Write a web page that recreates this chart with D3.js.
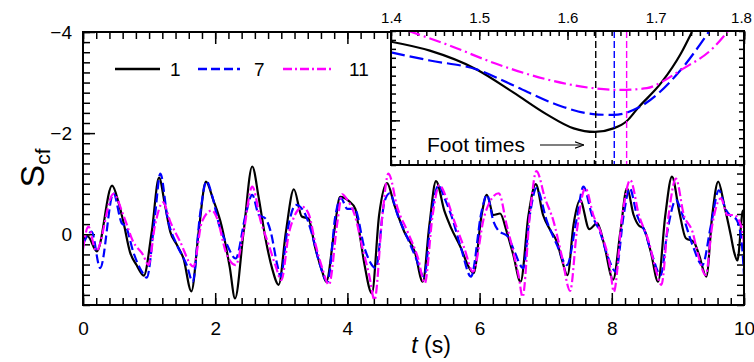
<!DOCTYPE html>
<html>
<head>
<meta charset="utf-8">
<script src="https://cdn.jsdelivr.net/npm/d3@7"></script>
<style>
  body { margin: 0; background: #fff; }
  svg { display: block; font-family: "Liberation Sans", Arial, sans-serif; }
</style>
</head>
<body>
<div id="chart"></div>
<script>
// legend / series
const seriesNames = ["1", "7", "11"];
const seriesColors = ["#000000", "#0000ff", "#ff00ff"];
const xTickLabels = [0, 2, 4, 6, 8, 10];
const yTickLabels = [-4, -2, 0];
const insetTickLabels = [1.4, 1.5, 1.6, 1.7, 1.8];
const footTimes = [1.632, 1.653, 1.667];

// main series [t (s), Scf]
const s1 = [[0,0.10],[0.07,0.04],[0.21,0.34],[0.44,-0.96],[0.535,-0.64],[0.61,-0.25],[0.71,0.35],[0.81,0.61],[0.92,0.82],
  [1.04,-0.05],[1.15,-1.12],[1.24,-0.58],[1.32,-0.05],[1.42,0.21],[1.52,0.48],[1.64,1.13],[1.75,-0.05],[1.86,-1.04],
  [1.97,-0.68],[2.10,-0.15],[2.22,0.65],[2.30,1.27],[2.43,-0.05],[2.56,-1.34],[2.66,-0.71],[2.76,0.08],[2.86,0.67],
  [2.96,1.0],[3.07,-0.05],[3.19,-0.89],[3.31,-0.35],[3.41,-0.31],[3.51,0.25],[3.62,0.74],[3.68,0.94],[3.80,-0.05],
  [3.89,-0.74],[4.02,-0.66],[4.12,-0.5],[4.18,-0.05],[4.26,0.61],[4.37,1.17],[4.48,-0.38],[4.60,-1.01],[4.71,-0.58],
  [4.86,-0.05],[5.02,0.35],[5.14,0.94],[5.24,-0.18],[5.34,-1.05],[5.47,-0.45],[5.57,-0.12],[5.72,0.28],[5.82,0.61],
  [5.91,0.77],[6.03,-0.38],[6.11,-0.78],[6.21,-0.38],[6.31,-0.41],[6.41,-0.05],[6.51,0.41],[6.62,0.94],[6.74,-0.38],
  [6.85,-0.99],[6.96,-0.38],[7.07,-0.08],[7.17,0.15],[7.24,0.48],[7.33,0.81],[7.42,-0.18],[7.52,-0.68],[7.66,-0.1],
  [7.78,-0.22],[7.88,0.18],[8.02,0.9],[8.13,-0.05],[8.23,-0.91],[8.33,-0.38],[8.41,-0.17],[8.48,-0.12],[8.59,0.35],
  [8.70,0.94],[8.81,-0.38],[8.91,-1.14],[9.02,-0.45],[9.12,0.08],[9.24,0.15],[9.32,0.41],[9.43,0.84],[9.52,-0.38],
  [9.61,-1.04],[9.70,-0.58],[9.80,0.02],[9.85,0.35],[9.90,0.52],[9.98,-0.45],[10,-0.48]];

const s7 = [[0,0.2],[0.13,-0.05],[0.26,0.67],[0.46,-0.81],[0.585,-0.22],[0.65,-0.15],[0.76,0.35],[0.89,0.74],[0.965,0.86],
  [1.09,-0.38],[1.17,-1.2],[1.28,-0.31],[1.42,0.21],[1.57,0.61],[1.66,0.94],[1.77,-0.38],[1.87,-1.05],[1.95,-0.78],
  [2.06,-0.18],[2.18,0.21],[2.31,0.48],[2.46,-0.38],[2.56,-0.78],[2.66,-0.38],[2.76,-0.31],[2.84,-0.05],[2.94,0.61],
  [2.99,0.84],[3.09,-0.05],[3.22,-0.58],[3.34,-0.45],[3.47,0.02],[3.57,0.54],[3.70,0.94],[3.82,-0.38],[3.90,-0.72],
  [4.00,-0.5],[4.11,-0.5],[4.26,0.28],[4.43,0.67],[4.56,-0.64],[4.64,-0.81],[4.76,-0.38],[4.91,0.08],[5.04,0.48],
  [5.16,0.84],[5.27,-0.38],[5.38,-0.97],[5.47,-0.71],[5.57,-0.38],[5.72,0.28],[5.87,0.84],[6.03,-0.45],[6.11,-0.78],
  [6.21,-0.25],[6.28,-0.08],[6.43,0.05],[6.53,0.35],[6.66,0.67],[6.76,-0.38],[6.86,-0.91],[7.02,-0.25],[7.17,0.21],
  [7.32,0.61],[7.47,-0.31],[7.57,-0.94],[7.70,-0.38],[7.82,-0.05],[7.95,0.48],[8.06,0.74],[8.18,-0.38],[8.27,-0.91],
  [8.38,-0.38],[8.5,-0.05],[8.61,0.41],[8.74,0.81],[8.84,-0.05],[8.97,-0.68],[9.07,-0.38],[9.22,0.21],[9.37,0.61],
  [9.50,-0.18],[9.62,-0.87],[9.72,-0.5],[9.80,-0.36],[9.88,-0.3],[9.96,0.1],[10,0.8]];

const s11 = [[0,0.3],[0.08,-0.15],[0.20,0.33],[0.46,-0.8],[0.61,-0.38],[0.76,0.15],[0.91,0.41],[0.99,0.61],[1.09,-0.18],
  [1.21,-0.63],[1.32,-0.25],[1.47,0.15],[1.67,0.64],[1.80,-0.25],[1.95,-0.47],[2.03,-0.31],[2.16,0.35],[2.31,0.61],
  [2.43,-0.05],[2.56,-0.94],[2.69,-0.25],[2.81,0.21],[2.91,0.61],[3.0,0.91],[3.12,-0.05],[3.32,-0.54],[3.42,-0.38],
  [3.52,0.21],[3.62,0.67],[3.72,1.0],[3.85,-0.25],[3.92,-0.79],[4.0,-0.68],[4.11,-0.38],[4.23,0.28],[4.33,0.81],
  [4.41,1.30],[4.53,-0.38],[4.62,-1.2],[4.76,-0.51],[4.91,-0.05],[5.07,0.48],[5.17,0.97],[5.29,-0.38],[5.39,-0.97],
  [5.50,-0.71],[5.62,-0.25],[5.77,0.28],[5.90,0.74],[6.07,-0.35],[6.17,-0.68],[6.29,-0.81],[6.41,-0.18],[6.51,0.35],
  [6.59,0.81],[6.65,1.24],[6.76,-0.38],[6.86,-1.25],[6.99,-0.71],[7.12,-0.25],[7.24,0.41],[7.37,1.12],[7.47,-0.05],
  [7.60,-0.91],[7.72,-0.38],[7.85,0.02],[7.97,0.61],[8.03,1.14],[8.16,-0.38],[8.28,-1.07],[8.41,-0.38],[8.56,0.15],
  [8.66,0.67],[8.75,1.0],[8.86,-0.38],[8.97,-1.1],[9.09,-0.38],[9.22,-0.05],[9.32,0.48],[9.42,0.81],[9.52,-0.18],
  [9.65,-0.71],[9.75,-0.38],[9.85,-0.38],[9.97,-0.1],[10,0.2]];

// inset (zoom around the first foot time)
const inset1 = [[1.4,0.12],[1.444,0.22],[1.497,0.43],[1.539,0.69],[1.576,0.93],[1.607,1.09],[1.631,1.13],[1.652,1.09],
  [1.667,1.01],[1.680,0.86],[1.707,0.57],[1.728,0.26],[1.741,0.01]];
const inset7 = [[1.4,0.24],[1.444,0.33],[1.497,0.43],[1.539,0.61],[1.584,0.81],[1.629,0.93],[1.652,0.94],[1.680,0.86],
  [1.728,0.44],[1.760,0.01]];
const inset11 = [[1.42,0],[1.463,0.15],[1.520,0.37],[1.576,0.54],[1.629,0.64],[1.660,0.66],[1.690,0.64],[1.707,0.57],
  [1.728,0.44],[1.765,0.19],[1.782,0]];

const mainSeries = [s1, s7, s11];
const insetSeries = [inset1, inset7, inset11];
const mainDash = [null, "9,4", "9,3,2,3"];
const insetDash = [null, "14,5", "12,4,2,4"];

////////////////////////////////////////////////////////////////////////////////////

const width = 754, height = 362;
const plot = { left: 83, right: 744, top: 32, bottom: 305 };
const box = { left: 391, right: 744, top: 31, bottom: 165 };
const FONT = "Liberation Sans, Arial, sans-serif";

const svg = d3.select("#chart").append("svg").attr("width", width).attr("height", height);

const x = d3.scaleLinear().domain([0, 10]).range([plot.left, plot.right]);
const y = d3.scaleLinear().domain([-4, 1.4]).range([plot.top, plot.bottom]);
const ix = d3.scaleLinear().domain([1.4, 1.8]).range([box.left, box.right]);
const iy = d3.scaleLinear().domain([0, 1.5]).range([box.top, box.bottom]);

const defs = svg.append("defs");
defs.append("clipPath").attr("id", "clip-main").append("rect")
  .attr("x", plot.left).attr("y", plot.top).attr("width", plot.right - plot.left).attr("height", plot.bottom - plot.top);
defs.append("clipPath").attr("id", "clip-inset").append("rect")
  .attr("x", box.left).attr("y", box.top).attr("width", box.right - box.left).attr("height", box.bottom - box.top);
defs.append("marker").attr("id", "arrow").attr("viewBox", "0 -5 10 10")
  .attr("refX", 10).attr("refY", 0).attr("markerWidth", 9).attr("markerHeight", 9)
  .attr("markerUnits", "userSpaceOnUse").attr("orient", "auto")
  .append("path").attr("d", "M0,-3.5L10,0L0,3.5").attr("fill", "none").attr("stroke", "#000").attr("stroke-width", 1.2);

function tickMarks(g, axis, values, size) {
  g.call(axis.tickValues(values).tickSize(size).tickFormat(""));
  g.select(".domain").remove();
  g.selectAll("line").attr("stroke", "#000").attr("stroke-width", 1.5);
}

const xMinor = d3.range(0, 10.001, 0.2);
const yMinor = d3.range(-4, 1.401, 0.2);

// main ticks, all pointing inward
svg.append("g").attr("transform", `translate(0,${plot.bottom})`).call(g => tickMarks(g, d3.axisTop(x), xMinor, 7));
svg.append("g").attr("transform", `translate(0,${plot.bottom})`).call(g => tickMarks(g, d3.axisTop(x), xTickLabels, 12));
svg.append("g").attr("transform", `translate(0,${plot.top})`).call(g => tickMarks(g, d3.axisBottom(x), xMinor, 7));
svg.append("g").attr("transform", `translate(0,${plot.top})`).call(g => tickMarks(g, d3.axisBottom(x), xTickLabels, 12));
svg.append("g").attr("transform", `translate(${plot.left},0)`).call(g => tickMarks(g, d3.axisRight(y), yMinor, 7));
svg.append("g").attr("transform", `translate(${plot.left},0)`).call(g => tickMarks(g, d3.axisRight(y), yTickLabels, 12));
svg.append("g").attr("transform", `translate(${plot.right},0)`).call(g => tickMarks(g, d3.axisLeft(y), yMinor, 7));

// main labels
svg.append("g").attr("transform", `translate(0,${plot.bottom})`)
  .call(d3.axisBottom(x).tickValues(xTickLabels).tickSize(0).tickPadding(17).tickFormat(d3.format("d")))
  .call(g => g.select(".domain").remove())
  .selectAll("text").attr("font-size", 19).attr("font-family", FONT).attr("fill", "#000");
svg.append("g").attr("transform", `translate(${plot.left},0)`)
  .call(d3.axisLeft(y).tickValues(yTickLabels).tickSize(0).tickPadding(11).tickFormat(d3.format("d")))
  .call(g => g.select(".domain").remove())
  .selectAll("text").attr("font-size", 19).attr("font-family", FONT).attr("fill", "#000");

const line = d3.line().x(d => x(d[0])).y(d => y(d[1])).curve(d3.curveMonotoneX);
const mainLines = svg.append("g").attr("clip-path", "url(#clip-main)");
mainSeries.forEach((data, i) => {
  mainLines.append("path").datum(data)
    .attr("d", line)
    .attr("fill", "none")
    .attr("stroke", seriesColors[i])
    .attr("stroke-width", 2.2)
    .attr("stroke-dasharray", mainDash[i]);
});

svg.append("rect").attr("x", plot.left).attr("y", plot.top)
  .attr("width", plot.right - plot.left).attr("height", plot.bottom - plot.top)
  .attr("fill", "none").attr("stroke", "#000").attr("stroke-width", 2);

// legend
const legend = svg.append("g").attr("font-size", 19);
const legendX = [115, 198, 283];
const legendW = [45, 42, 50];
const legendTextX = [170, 254, 349];
seriesNames.forEach((name, i) => {
  legend.append("line").attr("x1", legendX[i]).attr("x2", legendX[i] + legendW[i]).attr("y1", 69).attr("y2", 69)
    .attr("stroke", seriesColors[i]).attr("stroke-width", 2.4).attr("stroke-dasharray", mainDash[i]);
  legend.append("text").attr("x", legendTextX[i]).attr("y", 76).text(name);
});

// axis titles
const xTitle = svg.append("text").attr("x", 431).attr("y", 353).attr("text-anchor", "middle").attr("font-size", 23);
xTitle.append("tspan").attr("font-style", "italic").text("t");
xTitle.append("tspan").text(" (s)");

const yTitle = svg.append("text").attr("transform", "translate(44,168) rotate(-90)")
  .attr("text-anchor", "middle").attr("font-size", 34);
yTitle.append("tspan").text("S");
yTitle.append("tspan").attr("font-size", 21).attr("dy", 6).text("cf");

////////////////////////////////////////////////////////////////////////////////////
// inset

svg.append("rect").attr("x", box.left).attr("y", box.top)
  .attr("width", box.right - box.left).attr("height", box.bottom - box.top).attr("fill", "#fff");

const ixMinor = d3.range(1.4, 1.8001, 0.01);
const iyMinor = d3.range(0, 1.5001, 0.1);
svg.append("g").attr("transform", `translate(0,${box.top})`).call(g => tickMarks(g, d3.axisBottom(ix), ixMinor, 5));
svg.append("g").attr("transform", `translate(0,${box.top})`).call(g => tickMarks(g, d3.axisBottom(ix), insetTickLabels, 9));
svg.append("g").attr("transform", `translate(0,${box.bottom})`).call(g => tickMarks(g, d3.axisTop(ix), ixMinor, 5));
svg.append("g").attr("transform", `translate(${box.left},0)`).call(g => tickMarks(g, d3.axisRight(iy), iyMinor, 5));
svg.append("g").attr("transform", `translate(${box.left},0)`).call(g => tickMarks(g, d3.axisRight(iy), [1.0], 9));
svg.append("g").attr("transform", `translate(${box.right},0)`).call(g => tickMarks(g, d3.axisLeft(iy), iyMinor, 5));

svg.append("g").attr("transform", `translate(0,${box.top})`)
  .call(d3.axisTop(ix).tickValues(insetTickLabels).tickSize(0).tickPadding(8).tickFormat(d3.format(".1f")))
  .call(g => g.select(".domain").remove())
  .selectAll("text").attr("font-size", 15).attr("font-family", FONT).attr("fill", "#000")
  .attr("dx", (d, i) => (i === insetTickLabels.length - 1 ? -3 : 0));

const iline = d3.line().x(d => ix(d[0])).y(d => iy(d[1])).curve(d3.curveMonotoneX);
const insetLines = svg.append("g").attr("clip-path", "url(#clip-inset)");
insetSeries.forEach((data, i) => {
  insetLines.append("path").datum(data)
    .attr("d", iline)
    .attr("fill", "none")
    .attr("stroke", seriesColors[i])
    .attr("stroke-width", 2.2)
    .attr("stroke-dasharray", insetDash[i]);
});

// foot time markers
insetLines.selectAll("line.foot").data(footTimes).enter().append("line")
  .attr("class", "foot")
  .attr("x1", d => ix(d)).attr("x2", d => ix(d))
  .attr("y1", box.top).attr("y2", box.bottom)
  .attr("stroke", (d, i) => seriesColors[i])
  .attr("stroke-width", 1.4)
  .attr("stroke-dasharray", "7,3");

svg.append("text").attr("x", 427).attr("y", 152).attr("font-size", 21).text("Foot times");
svg.append("line").attr("x1", 540).attr("x2", 584).attr("y1", 145).attr("y2", 145)
  .attr("stroke", "#000").attr("stroke-width", 1.2).attr("marker-end", "url(#arrow)");

svg.append("rect").attr("x", box.left).attr("y", box.top)
  .attr("width", box.right - box.left).attr("height", box.bottom - box.top)
  .attr("fill", "none").attr("stroke", "#000").attr("stroke-width", 2);
</script>
</body>
</html>
